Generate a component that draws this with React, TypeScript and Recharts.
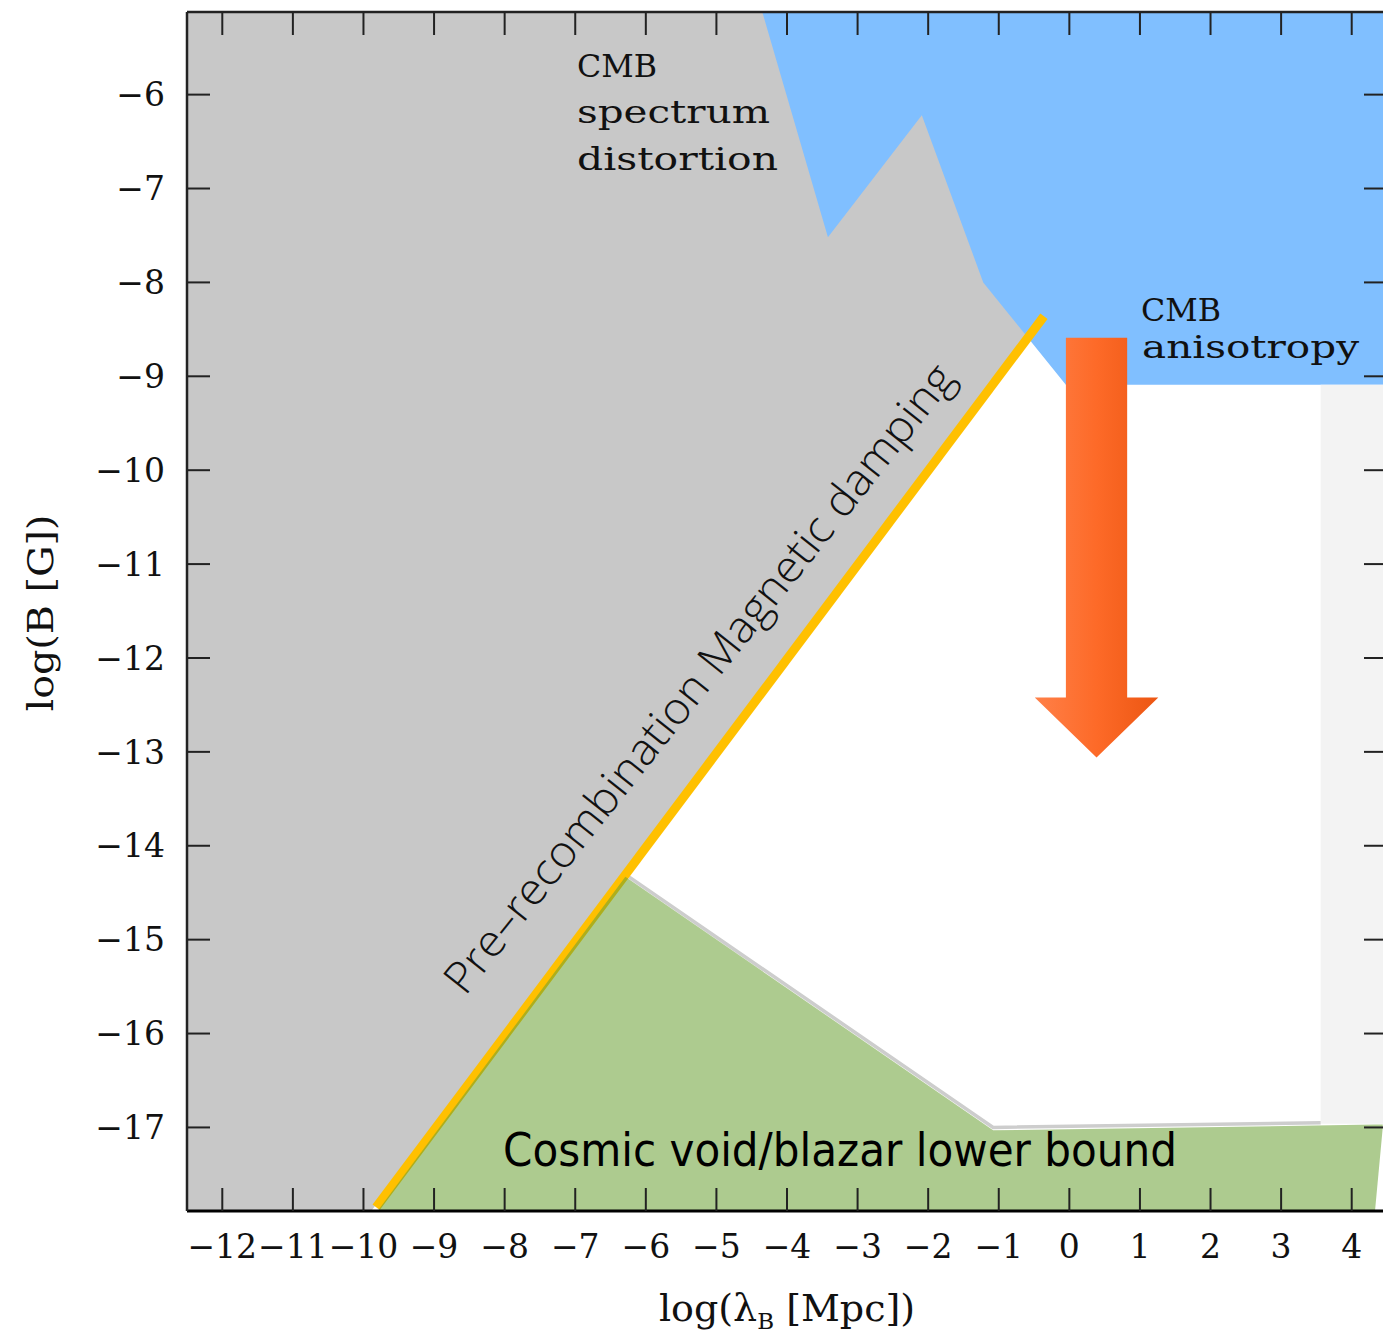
import React from 'react';
import {
  ComposedChart,
  Area,
  Line,
  XAxis,
  YAxis,
  CartesianGrid,
  ReferenceArea,
} from 'recharts';

// Axis ranges: log(lambda_B [Mpc]) horizontally, log(B [G]) vertically
const X_DOMAIN: [number, number] = [-12.5, 4.5];
const Y_DOMAIN: [number, number] = [-17.89, -5.12];
const xTicks = [-12, -11, -10, -9, -8, -7, -6, -5, -4, -3, -2, -1, 0, 1, 2, 3, 4];
const yTicks = [-6, -7, -8, -9, -10, -11, -12, -13, -14, -15, -16, -17];

// Parameter space below the pre-recombination damping line (still allowed)
const allowedZone = [
  { x: -9.89, range: [-17.89, -17.89] },
  { x: 2.88, range: [-17.89, -5.12] },
  { x: 4.5, range: [-17.89, -5.12] },
];

// CMB anisotropy exclusion (lower edge of the blue region)
const cmbAnisotropy = [
  { x: -4.35, range: [-5.12, -5.12] },
  { x: -3.42, range: [-7.52, -5.12] },
  { x: -2.09, range: [-6.22, -5.12] },
  { x: -1.22, range: [-8.0, -5.12] },
  { x: -0.05, range: [-9.09, -5.12] },
  { x: 4.5, range: [-9.09, -5.12] },
];

// Large-scale band on the right
const farStrip = [
  { x: 3.56, range: [-16.96, -9.09] },
  { x: 4.5, range: [-16.96, -9.09] },
];

// Cosmic void / blazar lower bound
const voidBound = [
  { x: -9.8, range: [-17.89, -17.89] },
  { x: -6.29, range: [-17.89, -14.33] },
  { x: -1.08, range: [-17.89, -17.03] },
  { x: 4.33, range: [-17.89, -16.97] },
  { x: 4.44, range: [-17.0, -16.97] },
];

// Edge of the excluded region just above the lower bound
const voidEdge = [
  { x: -6.3, y: -14.3 },
  { x: -1.08, y: -17.0 },
  { x: 3.56, y: -16.95 },
];

// Pre-recombination magnetic damping limit
const dampingLine = [
  { x: -9.82, y: -17.85 },
  { x: -0.36, y: -8.36 },
];

// Downward arrow marking the remaining window
const arrowBox = { x1: -0.49, x2: 1.26, y1: -13.06, y2: -8.59 };

const fmt = (v: number) => (v < 0 ? `\u2212${Math.abs(v)}` : `${v}`);
const blank = () => '';

const tickFont = { fontFamily: 'DejaVu Serif', fontSize: 33, fill: '#111' };
const tickLineStyle = { stroke: '#222', strokeWidth: 2 };
const frameLine = { stroke: '#222', strokeWidth: 2.5 };

const DownArrow = (props: any) => {
  const { x, y, width, height } = props;
  const sl = x + width * 0.252;
  const sr = x + width * 0.748;
  const hb = y + height * 0.857;
  const pts = [
    [sl, y],
    [sr, y],
    [sr, hb],
    [x + width, hb],
    [x + width / 2, y + height],
    [x, hb],
    [sl, hb],
  ]
    .map((p) => p.join(','))
    .join(' ');
  return (
    <g>
      <defs>
        <linearGradient id="arrowFill" x1="0" y1="0" x2="1" y2="0">
          <stop offset="0%" stopColor="#ff8048" />
          <stop offset="50%" stopColor="#fd6a28" />
          <stop offset="100%" stopColor="#ec5612" />
        </linearGradient>
      </defs>
      <polygon points={pts} fill="url(#arrowFill)" />
    </g>
  );
};

export default function App() {
  return (
    <div
      style={{
        position: 'absolute',
        left: 0,
        top: 0,
        width: 1383,
        height: 1339,
        overflow: 'hidden',
        background: '#fff',
      }}
    >
      <ComposedChart
        width={1420}
        height={1339}
        margin={{ top: 11, right: 23, bottom: 68, left: 0 }}
      >
        <CartesianGrid horizontal={false} vertical={false} fill="#c8c8c8" stroke="none" />

        <Area
          data={allowedZone}
          dataKey="range"
          type="linear"
          fill="#ffffff"
          fillOpacity={1}
          stroke="none"
          dot={false}
          activeDot={false}
          isAnimationActive={false}
          zIndex={101}
        />
        <Area
          data={cmbAnisotropy}
          dataKey="range"
          type="linear"
          fill="#80bfff"
          fillOpacity={1}
          stroke="none"
          dot={false}
          activeDot={false}
          isAnimationActive={false}
          zIndex={102}
        />
        <Area
          data={farStrip}
          dataKey="range"
          type="linear"
          fill="#f3f3f3"
          fillOpacity={1}
          stroke="none"
          dot={false}
          activeDot={false}
          isAnimationActive={false}
          zIndex={103}
        />
        <Line
          data={voidEdge}
          dataKey="y"
          type="linear"
          stroke="#cdcdcd"
          strokeWidth={3.5}
          dot={false}
          activeDot={false}
          isAnimationActive={false}
          zIndex={390}
        />
        <Line
          data={dampingLine}
          dataKey="y"
          type="linear"
          stroke="#ffc000"
          strokeWidth={9}
          dot={false}
          activeDot={false}
          isAnimationActive={false}
          zIndex={400}
        />
        <Area
          data={voidBound}
          dataKey="range"
          type="linear"
          fill="#6aa033"
          fillOpacity={0.55}
          stroke="none"
          dot={false}
          activeDot={false}
          isAnimationActive={false}
          zIndex={450}
        />

        <XAxis
          dataKey="x"
          type="number"
          domain={X_DOMAIN}
          allowDataOverflow
          ticks={xTicks}
          interval={0}
          tickFormatter={fmt}
          height={60}
          tickSize={-23}
          tickMargin={47}
          axisLine={{ stroke: '#000', strokeWidth: 3 }}
          tickLine={tickLineStyle}
          tick={tickFont}
        />
        <XAxis
          xAxisId="top"
          orientation="top"
          dataKey="x"
          type="number"
          domain={X_DOMAIN}
          allowDataOverflow
          ticks={xTicks}
          interval={0}
          tickFormatter={blank}
          height={1}
          tickSize={-23}
          axisLine={frameLine}
          tickLine={tickLineStyle}
        />
        <YAxis
          type="number"
          domain={Y_DOMAIN}
          allowDataOverflow
          ticks={yTicks}
          interval={0}
          tickFormatter={fmt}
          width={187}
          tickSize={-23}
          tickMargin={45}
          axisLine={frameLine}
          tickLine={tickLineStyle}
          tick={tickFont}
        />
        <YAxis
          yAxisId="right"
          orientation="right"
          type="number"
          domain={Y_DOMAIN}
          allowDataOverflow
          ticks={yTicks}
          interval={0}
          tickFormatter={blank}
          width={10}
          tickSize={-23}
          axisLine={frameLine}
          tickLine={tickLineStyle}
        />

        <ReferenceArea
          x1={arrowBox.x1}
          x2={arrowBox.x2}
          y1={arrowBox.y1}
          y2={arrowBox.y2}
          shape={DownArrow}
          zIndex={700}
        />
      </ComposedChart>

      <svg
        width={1383}
        height={1339}
        style={{ position: 'absolute', left: 0, top: 0, pointerEvents: 'none' }}
      >
        <g fontFamily="DejaVu Serif" fill="#111" fontSize={31}>
          <text x={577} y={77} textLength={80} lengthAdjust="spacingAndGlyphs">CMB</text>
          <text x={577} y={123} textLength={193} lengthAdjust="spacingAndGlyphs">spectrum</text>
          <text x={577} y={170} textLength={201} lengthAdjust="spacingAndGlyphs">distortion</text>
          <text x={1141} y={321} textLength={80} lengthAdjust="spacingAndGlyphs">CMB</text>
          <text x={1142} y={358} textLength={217} lengthAdjust="spacingAndGlyphs">anisotropy</text>
        </g>
        <text
          transform="translate(465 997) rotate(-51.5)"
          fontFamily="Open Sans"
          fontWeight={300}
          fontSize={44}
          fill="#111"
          textLength={790}
          lengthAdjust="spacingAndGlyphs"
        >
          Pre–recombination Magnetic damping
        </text>
        <text
          x={503}
          y={1166}
          fontFamily="DejaVu Sans Condensed, Noto Sans"
          fontSize={47}
          fill="#000"
          textLength={674}
          lengthAdjust="spacingAndGlyphs"
        >
          Cosmic void/blazar lower bound
        </text>
        <text
          transform="translate(53 613) rotate(-90)"
          textAnchor="middle"
          fontFamily="DejaVu Serif"
          fontSize={36}
          fill="#111"
          textLength={197}
          lengthAdjust="spacingAndGlyphs"
        >
          log(B [G])
        </text>
        <text x={787} y={1321} textAnchor="middle" fontFamily="DejaVu Serif" fontSize={38} fill="#111">
          log(λ
          <tspan fontSize={23} dy={8}>B</tspan>
          <tspan dy={-8}> [Mpc])</tspan>
        </text>
      </svg>
    </div>
  );
}
